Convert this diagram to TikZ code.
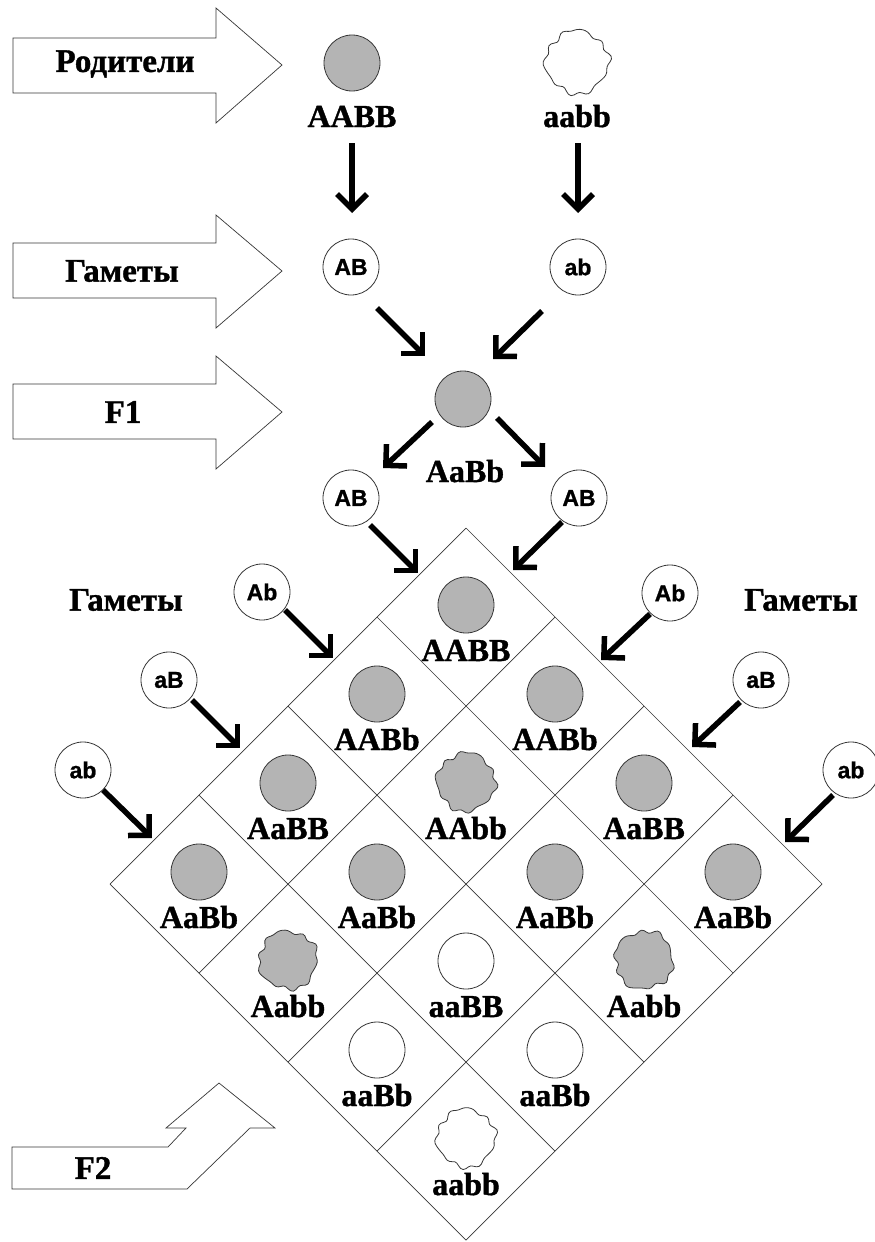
\documentclass[tikz,border=0pt]{standalone}
\usepackage{fontspec}
\setmainfont{Liberation Serif}[BoldFont={Liberation Serif Bold}, BoldFeatures={FakeBold=1.2}]
\newfontfamily\gamfont{Liberation Sans}[BoldFont={Liberation Sans Bold}, BoldFeatures={FakeBold=1.0}]
\usetikzlibrary{arrows.meta}
\definecolor{cellgrey}{RGB}{180,180,180}
\definecolor{edgec}{RGB}{55,55,55}
\newcommand\wrr[1]{(29+1.4*sin(10*#1)+1.3*sin(4*#1+50)+0.7*sin(13*#1+20))}
\tikzset{
  wrink/.pic={\path[pic actions] plot[smooth cycle, variable=\t, domain=0:355, samples=72]
     ({\wrr{\t}*cos(\t)},{\wrr{\t}*sin(\t)});}
}
\begin{document}
\begin{tikzpicture}[x=1pt,y=-1pt,
  lab/.style={font=\fontsize{32}{32}\selectfont\bfseries, anchor=base, inner sep=0},
  ru/.style={font=\fontsize{33}{33}\selectfont\bfseries, inner sep=0},
  gam/.style={circle, draw=edgec, line width=0.8pt, fill=white, minimum size=56pt, inner sep=0,
     font=\gamfont\fontsize{23}{23}\selectfont\bfseries},
  cellc/.style={circle, draw=edgec, line width=0.8pt, minimum size=56pt, inner sep=0},
  bigarr/.style={line width=5.5pt, -{Straight Barb[length=15pt,width=30pt]}},
  block/.style={draw=edgec, line width=0.7pt, fill=white, line join=miter},
  gridl/.style={draw=edgec, line width=0.7pt}
]
\useasboundingbox (0,0) rectangle (875,1242);
\fill[white] (0,0) rectangle (875,1242);

% block arrows
\path[block] (13,38) -- (216,38) -- (216,8) -- (282,65) -- (216,123) -- (216,93) -- (13,93) -- cycle;
\node[ru] (tpar) at (125,64) {Родители};
\path[block] (13,243) -- (216,243) -- (216,215) -- (282,271) -- (216,328) -- (216,298) -- (13,298) -- cycle;
\node[ru] (tgam) at (122,271) {Гаметы};
\path[block] (13,384) -- (216,384) -- (216,356) -- (282,412) -- (216,469) -- (216,439) -- (13,439) -- cycle;
\node[ru] (tf1) at (123,412) {F1};
\path[block] (12,1147) -- (168,1147) -- (186,1128) -- (166,1128) -- (219,1083) -- (275,1128)
   -- (250,1128) -- (187,1189) -- (12,1189) -- cycle;
\node[ru] (tf2) at (93,1168) {F2};

% parents
\node[cellc, fill=cellgrey] (p1) at (352,63) {};
\pic[draw=edgec, line width=0.8pt, fill=white, scale=1.08, rotate=15] (p2) at (577,62) {wrink};
\node[lab] (lp1) at (352,127) {AABB};
\node[lab] (lp2) at (577,127) {aabb};

% gametes row 1
\node[gam] (g1) at (351,267) {AB};
\node[gam] (g2) at (578,267) {ab};

% F1
\node[cellc, fill=cellgrey] (f1) at (463,399) {};
\node[lab] (lf1) at (465,482) {AaBb};

% gametes row 2
\node[gam] (g3) at (351,498) {AB};
\node[gam] (g4) at (579,498) {AB};

% side gametes
\node[gam] (gl1) at (262,592) {Ab};
\node[gam] (gl2) at (169,680) {aB};
\node[gam] (gl3) at (83,770) {ab};
\node[gam] (gr1) at (670,593) {Ab};
\node[gam] (gr2) at (761,680) {aB};
\node[gam] (gr3) at (851,770) {ab};
\node[ru] (tgl) at (126,600) {Гаметы};
\node[ru] (tgr) at (801,600) {Гаметы};

% arrow end points
\coordinate (a1s) at (352,143); \coordinate (a1e) at (352,213);
\coordinate (a2s) at (578,143); \coordinate (a2e) at (578,213);
\coordinate (a3s) at (377,308); \coordinate (a3e) at (425,356);
\coordinate (a4s) at (542,311); \coordinate (a4e) at (493,359);
\coordinate (a5s) at (432,422); \coordinate (a5e) at (383,468);
\coordinate (a6s) at (497,418); \coordinate (a6e) at (545,467);
\coordinate (a7s) at (370,525); \coordinate (a7e) at (418,573);
\coordinate (a8s) at (562,522); \coordinate (a8e) at (513,570);
\coordinate (b1s) at (285,610); \coordinate (b1e) at (333,658);
\coordinate (b2s) at (192,700); \coordinate (b2e) at (240,748);
\coordinate (b3s) at (103,790); \coordinate (b3e) at (152,838);
\coordinate (c1s) at (650,614); \coordinate (c1e) at (601,660);
\coordinate (c2s) at (740,702); \coordinate (c2e) at (692,747);
\coordinate (c3s) at (833,795); \coordinate (c3e) at (785,842);
\foreach \a in {a1,a2,a3,a4,a5,a6,a7,a8,b1,b2,b3,c1,c2,c3}
  \draw[bigarr] (\a s) -- (\a e);

% diamond grid
\foreach \k in {0,...,4}{
  \draw[gridl] (466+89*\k,528+89*\k) -- (466+89*\k-356,528+89*\k+356);
  \draw[gridl] (466-89*\k,528+89*\k) -- (466-89*\k+356,528+89*\k+356);
}

% cells: grey circles
\foreach \i/\j in {0/0,1/0,0/1,2/0,0/2,3/0,2/1,1/2,0/3}{
  \node[cellc, fill=cellgrey] (c\i\j) at ({466+89*(\j-\i)},{528+89*(\i+\j+1)-12}) {};
}
% white circles
\foreach \i/\j in {2/2,3/2,2/3}{
  \node[cellc, fill=white] (c\i\j) at ({466+89*(\j-\i)},{528+89*(\i+\j+1)-12}) {};
}
% grey wrinkled
\foreach \i/\j/\r in {1/1/0,3/1/35,1/3/70}{
  \pic[draw=edgec, line width=0.8pt, fill=cellgrey, rotate=\r] (c\i\j) at ({466+89*(\j-\i)},{528+89*(\i+\j+1)-13}) {wrink};
}
% white wrinkled
\pic[draw=edgec, line width=0.8pt, fill=white, rotate=20] (c33) at (466,1138) {wrink};

% labels
\foreach \i/\j/\l in {0/0/AABB,1/0/AABb,0/1/AABb,2/0/AaBB,1/1/AAbb,0/2/AaBB,3/0/AaBb,2/1/AaBb,1/2/AaBb,0/3/AaBb,3/1/Aabb,2/2/aaBB,1/3/Aabb,3/2/aaBb,2/3/aaBb,3/3/aabb}{
  \node[lab] (l\i\j) at ({466+89*(\j-\i)},{528+89*(\i+\j+1)+44}) {\l};
}
\end{tikzpicture}
\end{document}
